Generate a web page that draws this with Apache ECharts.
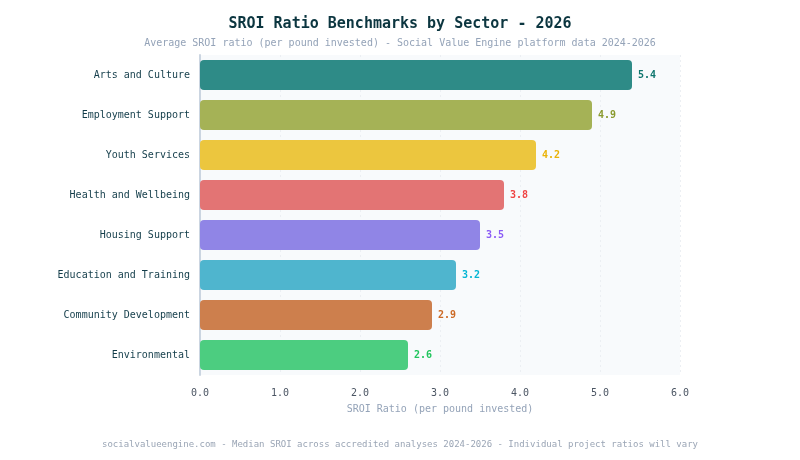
<!DOCTYPE html>
<html><head><meta charset="utf-8">
<script src="https://cdn.jsdelivr.net/npm/echarts@6/dist/echarts.min.js"></script>
<style>html,body{margin:0;padding:0;background:#fff}#c{width:800px;height:460px}</style>
</head><body><div id="c"></div>
<script>
const categories = ["Arts and Culture","Employment Support","Youth Services","Health and Wellbeing","Housing Support","Education and Training","Community Development","Environmental"];
const values = [5.4, 4.9, 4.2, 3.8, 3.5, 3.2, 2.9, 2.6];
const barColors = ["#2e8b87","#a5b256","#ecc63e","#e37474","#9085e6","#4fb5ce","#cd7f4d","#4ccd80"];
const labelColors = ["#0f766e","#8a9a2e","#eab308","#ef4444","#8b5cf6","#06b6d4","#cc6a26","#22c55e"];
const xTicks = [0,1,2,3,4,5,6];
const FONT = "DejaVu Sans Mono";
const chart = echarts.init(document.getElementById('c'), null, {renderer:'canvas'});
chart.setOption({
  backgroundColor:'#ffffff',
  animation:false,
  textStyle:{fontFamily:FONT},
  title:[
    {text:"SROI Ratio Benchmarks by Sector - 2026", left:'center', top:12,
     textStyle:{fontFamily:FONT,fontSize:15,fontWeight:'bold',color:'#0c3640'}},
    {text:"Average SROI ratio (per pound invested) - Social Value Engine platform data 2024-2026", left:'center', top:33,
     textStyle:{fontFamily:FONT,fontSize:10,fontWeight:'normal',color:'#94a3b8'}},
    {text:"socialvalueengine.com - Median SROI across accredited analyses 2024-2026 - Individual project ratios will vary", left:'center', top:435,
     textStyle:{fontFamily:FONT,fontSize:9,fontWeight:'normal',color:'#9aa5b5'}}
  ],
  grid:{left:200, right:120, top:55, height:320, show:true, backgroundColor:'#f8fafc', borderWidth:0},
  xAxis:{type:'value', min:xTicks[0], max:xTicks[xTicks.length-1], interval:1,
    name:"SROI Ratio (per pound invested)", nameLocation:'middle', nameGap:29,
    nameTextStyle:{fontFamily:FONT,fontSize:10,color:'#94a3b8'},
    axisLine:{show:false}, axisTick:{show:false},
    axisLabel:{fontFamily:FONT,fontSize:10,color:'#4b5563',margin:13,formatter:v=>v.toFixed(1)},
    splitLine:{show:true,lineStyle:{color:'#eceff3',type:[2,3],width:1}}},
  yAxis:{type:'category', data:categories, inverse:true,
    axisLine:{show:true,lineStyle:{color:'#cbd5e1',width:2}}, axisTick:{show:false},
    axisLabel:{fontFamily:FONT,fontSize:10,color:'#133d4a',margin:10,padding:[2,0,0,0]},
    splitLine:{show:false}},
  series:[{type:'bar', barWidth:30,
    data:values.map((v,i)=>({value:v,itemStyle:{color:barColors[i]},label:{color:labelColors[i]}})),
    itemStyle:{borderRadius:4},
    label:{show:true,position:'right',distance:6,padding:[2,0,0,0],fontFamily:FONT,fontSize:10,fontWeight:'bold',formatter:p=>p.value.toFixed(1)}
  }]
});
</script></body></html>
